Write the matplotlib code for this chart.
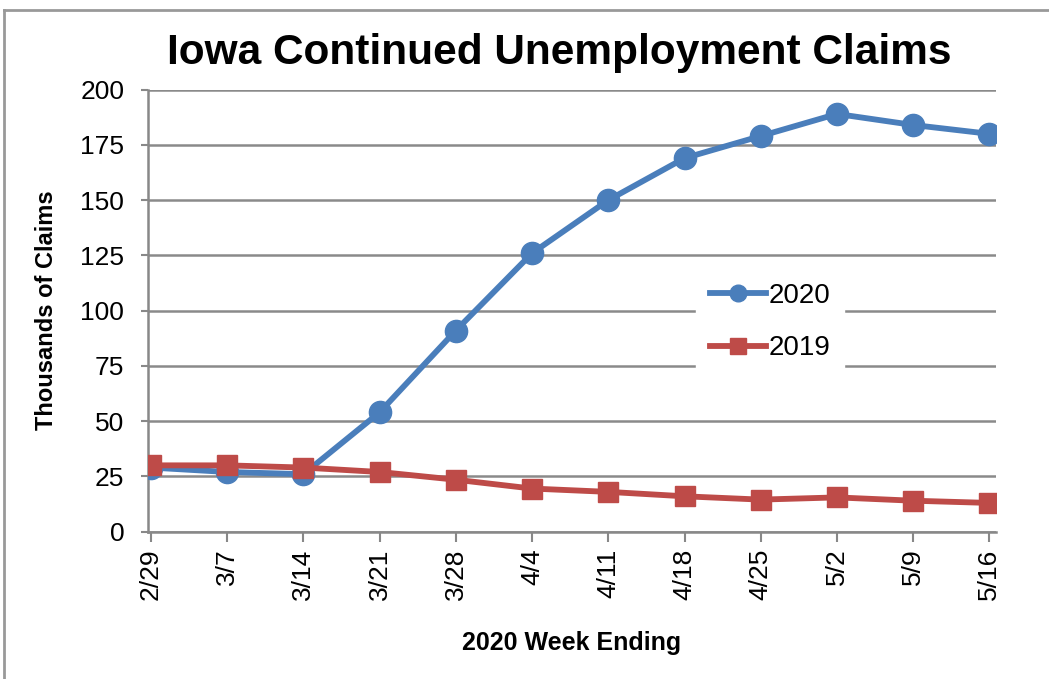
import matplotlib
matplotlib.use("Agg")
import matplotlib.pyplot as plt
from matplotlib.lines import Line2D

weeks = ["2/29", "3/7", "3/14", "3/21", "3/28", "4/4", "4/11",
         "4/18", "4/25", "5/2", "5/9", "5/16"]
claims_2020 = [29, 27, 26, 54, 91, 126, 150, 169, 179, 189, 184, 180]
claims_2019 = [30, 30, 29, 27, 23.5, 19.5, 18, 16, 14.5, 15.5, 14, 13]
y_ticks = [0, 25, 50, 75, 100, 125, 150, 175, 200]

plt.rcParams['font.family'] = ['Liberation Sans', 'DejaVu Sans']

fig = plt.figure(figsize=(10.49, 6.79), dpi=100)
ax = fig.add_axes([0.141, 0.217, 0.808, 0.651])

x = list(range(len(weeks)))
ax.plot(x, claims_2020, color="#4a7ebb", lw=4.2, marker="o", ms=16,
        label="2020", zorder=4)
ax.plot(x, claims_2019, color="#be4b48", lw=4.2, marker="s", ms=15,
        label="2019", zorder=5)

ax.set_xlim(-0.04, len(weeks) - 1 + 0.08)
ax.set_ylim(0, 200)
ax.set_yticks(y_ticks)
ax.set_xticks(x)
ax.set_xticklabels(weeks, rotation=90, fontsize=19)
ax.tick_params(axis="y", labelsize=19, length=5, width=1.5, color="#888888",
               direction="out", pad=12)
ax.tick_params(axis="x", length=7, width=1.5, color="#888888",
               direction="out", pad=5)

ax.grid(axis="y", color="#8a8a8a", lw=1.8, zorder=1)
ax.set_axisbelow(True)
for s in ["top", "right"]:
    ax.spines[s].set_visible(False)
for s in ["left", "bottom"]:
    ax.spines[s].set_color("#888888")
    ax.spines[s].set_linewidth(1.8)

ax.set_ylabel("Thousands of Claims", fontsize=17, fontweight="bold",
              labelpad=16)
ax.set_xlabel("2020 Week Ending", fontsize=18, fontweight="bold",
              labelpad=22)
fig.text(0.533, 0.922, "Iowa Continued Unemployment Claims", ha="center",
         va="center", fontsize=30.5, fontweight="bold")

leg = ax.legend(loc="center left", bbox_to_anchor=(0.647, 0.474), frameon=True,
                fontsize=20, handlelength=2.0, handletextpad=0.1,
                labelspacing=0.95, borderpad=0.5, borderaxespad=0,
                markerscale=0.75)
leg.get_frame().set_edgecolor("white")
leg.get_frame().set_facecolor("white")
leg.get_frame().set_alpha(1)

# outer frame (only top and left edges are visible in the source)
fig.add_artist(Line2D([0.004, 1.0], [0.985, 0.985], transform=fig.transFigure,
                      color="#999999", lw=2))
fig.add_artist(Line2D([0.004, 0.004], [0.0, 0.985], transform=fig.transFigure,
                      color="#999999", lw=2))

fig.savefig("out.png", dpi=100)
